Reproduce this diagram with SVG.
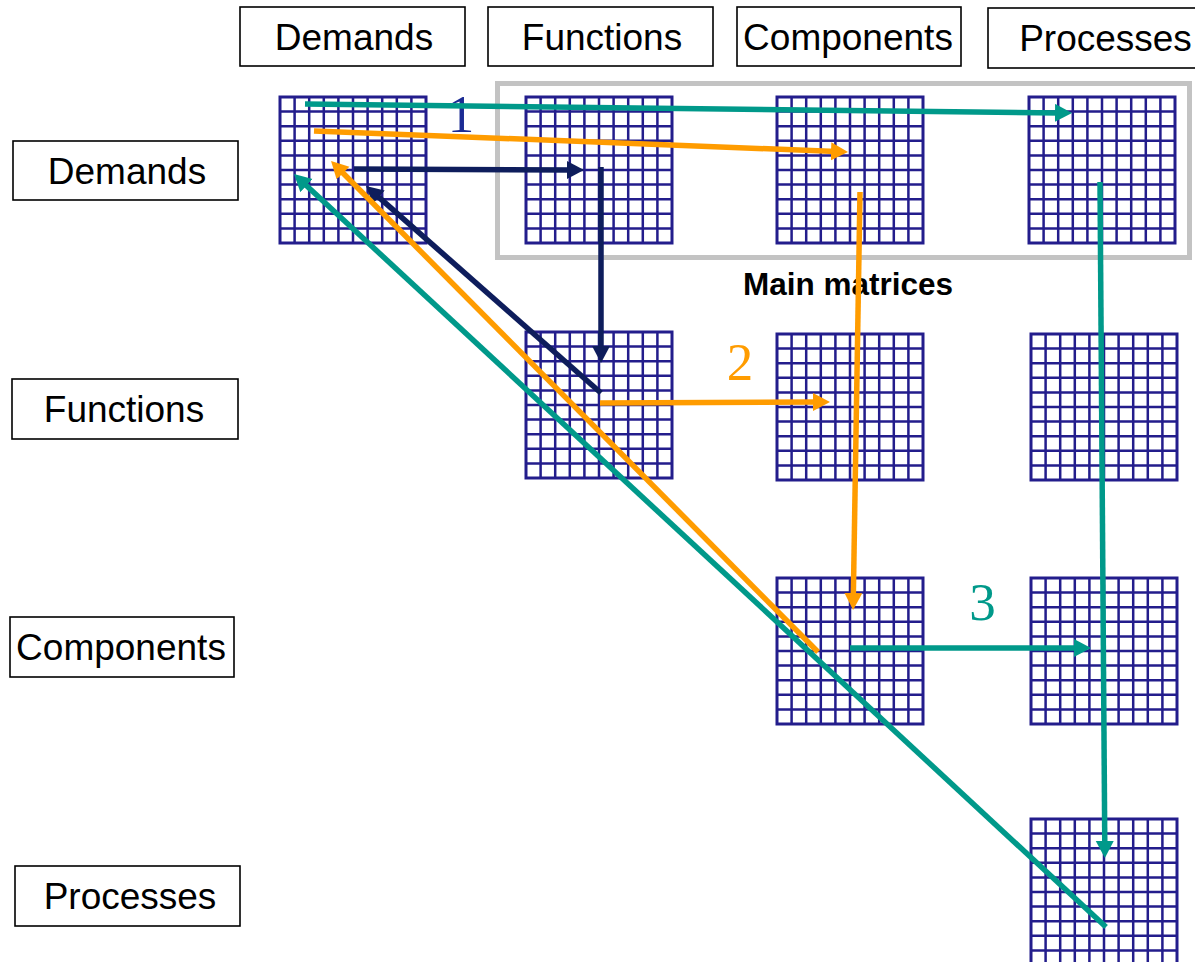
<svg xmlns="http://www.w3.org/2000/svg" xmlns:xlink="http://www.w3.org/1999/xlink" width="1195" height="962" viewBox="0 0 1195 962">
  <style>
    .lbl rect { fill: #ffffff; stroke: #000000; stroke-width: 1.6; }
    .lbl text { font-family: "Liberation Sans", Arial, sans-serif; font-size: 37px; fill: #000000; text-anchor: middle; }
    .cell { fill: none; stroke: #231d8c; stroke-width: 2.5; }
    .frame { fill: none; stroke: #231d8c; stroke-width: 3; }
    .teal { stroke: #00998a; stroke-width: 5.5; fill: none; marker-end: url(#hTeal); }
    .orange { stroke: #ff9c00; stroke-width: 5.5; fill: none; marker-end: url(#hOrange); }
    .navy { stroke: #0e1d5c; stroke-width: 5.5; fill: none; marker-end: url(#hNavy); }
    .num { font-family: "Liberation Serif", "Times New Roman", serif; font-size: 53px; text-anchor: middle; }
  </style>
  <defs>
    <!-- 10 x 10 matrix, 146 px square -->
    <g id="grid">
      <path class="cell" d="M14.6,0v146M29.2,0v146M43.8,0v146M58.4,0v146M73,0v146M87.6,0v146M102.2,0v146M116.8,0v146M131.4,0v146M0,14.6h146M0,29.2h146M0,43.8h146M0,58.4h146M0,73h146M0,87.6h146M0,102.2h146M0,116.8h146M0,131.4h146"/>
      <rect class="frame" x="0" y="0" width="146" height="146"/>
    </g>
    <marker id="hTeal" markerUnits="userSpaceOnUse" markerWidth="20" markerHeight="20" refX="5" refY="9" orient="auto">
      <path d="M0,0 L17,9 L0,18 z" fill="#00998a"/>
    </marker>
    <marker id="hOrange" markerUnits="userSpaceOnUse" markerWidth="20" markerHeight="20" refX="5" refY="9" orient="auto">
      <path d="M0,0 L17,9 L0,18 z" fill="#ff9c00"/>
    </marker>
    <marker id="hNavy" markerUnits="userSpaceOnUse" markerWidth="20" markerHeight="20" refX="5" refY="9" orient="auto">
      <path d="M0,0 L17,9 L0,18 z" fill="#0e1d5c"/>
    </marker>
  </defs>
  <rect width="1195" height="962" fill="#ffffff"/>

  <!-- column headers -->
  <g id="col-demands" class="lbl"><rect x="240" y="7" width="225" height="59"/><text x="354" y="50">Demands</text></g>
  <g id="col-functions" class="lbl"><rect x="488" y="7" width="225" height="59"/><text x="602" y="50">Functions</text></g>
  <g id="col-components" class="lbl"><rect x="737" y="7" width="224" height="59"/><text x="848" y="50">Components</text></g>
  <g id="col-processes" class="lbl"><rect x="988" y="8" width="230" height="60"/><text x="1105.5" y="51">Processes</text></g>

  <!-- row headers -->
  <g id="row-demands" class="lbl"><rect x="13" y="141" width="225" height="59"/><text x="127" y="184">Demands</text></g>
  <g id="row-functions" class="lbl"><rect x="12" y="379" width="226" height="60"/><text x="124" y="422">Functions</text></g>
  <g id="row-components" class="lbl"><rect x="10" y="617" width="224" height="60"/><text x="121" y="660">Components</text></g>
  <g id="row-processes" class="lbl"><rect x="15" y="866" width="225" height="60"/><text x="130" y="909">Processes</text></g>

  <!-- main matrices frame -->
  <g id="main-matrices">
    <rect x="497.5" y="83.5" width="692" height="174" fill="none" stroke="#c3c3c3" stroke-width="5"/>
    <text x="848" y="295" font-family="Liberation Sans, Arial, sans-serif" font-size="31.5" font-weight="bold" text-anchor="middle">Main matrices</text>
  </g>

  <!-- matrices -->
  <g id="m-dd"><use xlink:href="#grid" x="280" y="97"/></g>
  <g id="m-df"><use xlink:href="#grid" x="526" y="97"/></g>
  <g id="m-dc"><use xlink:href="#grid" x="777" y="97"/></g>
  <g id="m-dp"><use xlink:href="#grid" x="1029" y="97"/></g>
  <g id="m-ff"><use xlink:href="#grid" x="526" y="332"/></g>
  <g id="m-fc"><use xlink:href="#grid" x="777" y="334"/></g>
  <g id="m-fp"><use xlink:href="#grid" x="1031" y="334"/></g>
  <g id="m-cc"><use xlink:href="#grid" x="777" y="578"/></g>
  <g id="m-cp"><use xlink:href="#grid" x="1031" y="578"/></g>
  <g id="m-pp"><use xlink:href="#grid" x="1031" y="819"/></g>

  <!-- step numbers -->
  <text class="num" x="461" y="132" fill="#1b2b94">1</text>
  <text class="num" x="740" y="380" fill="#ff9c00">2</text>
  <text class="num" x="982.5" y="620" fill="#00998a">3</text>

  <!-- connectors -->
  <g id="connectors">
    <!-- path 1 (navy) -->
    <path class="navy" d="M354,169 L572,170"/>
    <path class="navy" d="M601,167 L601,351"/>
    <path class="navy" d="M601,393 L375,193.9"/>
    <!-- path 2 (orange) -->
    <path class="orange" d="M314,131 L836,151.5"/>
    <path class="orange" d="M860,192 L853.3,598"/>
    <path class="orange" d="M600,403 L818,402"/>
    <path class="orange" d="M818,652 L339.5,169.5"/>
    <!-- path 3 (teal) -->
    <path class="teal" d="M305,104 L1060,112.9"/>
    <path class="teal" d="M1100,182 L1104.8,846"/>
    <path class="teal" d="M850,648 L1079,648"/>
    <path class="teal" d="M1106,927 L302.8,182.2"/>
  </g>
</svg>
